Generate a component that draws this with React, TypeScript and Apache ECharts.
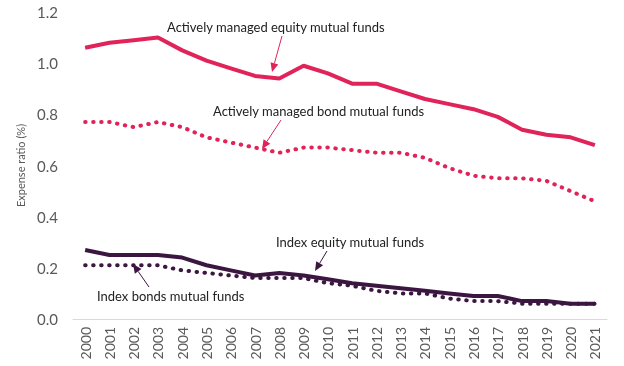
import React, { useEffect, useRef } from "react";
import * as echarts from "echarts";

const years = ["2000","2001","2002","2003","2004","2005","2006","2007","2008","2009","2010","2011","2012","2013","2014","2015","2016","2017","2018","2019","2020","2021"];
const activeEquity = [1.06,1.08,1.09,1.10,1.05,1.01,0.98,0.95,0.94,0.99,0.96,0.92,0.92,0.89,0.86,0.84,0.82,0.79,0.74,0.72,0.71,0.68];
const activeBond = [0.77,0.77,0.75,0.77,0.75,0.71,0.69,0.67,0.65,0.67,0.67,0.66,0.65,0.65,0.63,0.59,0.56,0.55,0.55,0.54,0.50,0.46];
const indexEquity = [0.27,0.25,0.25,0.25,0.24,0.21,0.19,0.17,0.18,0.17,0.155,0.14,0.13,0.12,0.11,0.10,0.09,0.09,0.07,0.07,0.06,0.06];
const indexBond = [0.21,0.21,0.21,0.21,0.19,0.18,0.17,0.16,0.16,0.16,0.14,0.13,0.11,0.10,0.10,0.08,0.07,0.07,0.06,0.06,0.06,0.06];
const yTicks = [0, 0.2, 0.4, 0.6, 0.8, 1.0, 1.2];

const PINK = "#E0245A";
const PURPLE = "#3B1640";
const FONT = "Lato, 'Open Sans', sans-serif";

function arrow(x1: number, y1: number, x2: number, y2: number, color: string) {
  const dx = x2 - x1, dy = y2 - y1;
  const len = Math.sqrt(dx * dx + dy * dy);
  const ux = dx / len, uy = dy / len;
  const hl = 9, hw = 4;
  const bx = x2 - ux * hl, by = y2 - uy * hl;
  const px = -uy, py = ux;
  return [
    { type: "line", shape: { x1, y1, x2: bx, y2: by }, style: { stroke: color, lineWidth: 1 }, silent: true },
    { type: "polygon", shape: { points: [[x2, y2], [bx + px * hw, by + py * hw], [bx - px * hw, by - py * hw]] }, style: { fill: color }, silent: true },
  ];
}

function label(text: string, x: number, y: number) {
  return { type: "text", x, y, style: { text, fill: "#222", font: `13px ${FONT}`, textVerticalAlign: "middle" }, silent: true };
}

export default function App() {
  const ref = useRef<HTMLDivElement>(null);
  useEffect(() => {
    const chart = echarts.init(ref.current!, null, { renderer: "svg" });
    const dotted = (color: string) => ({ color, width: 4, type: [0.5, 7.5], cap: "round" as const });
    chart.setOption({
      animation: false,
      grid: { left: 73, right: 17, top: 12, bottom: 47 },
      xAxis: {
        type: "category",
        data: years,
        boundaryGap: true,
        axisLine: { lineStyle: { color: "#D9D9D9", width: 1 } },
        axisTick: { show: false },
        axisLabel: { rotate: 90, color: "#595959", fontSize: 14, fontFamily: FONT, margin: 8 },
      },
      yAxis: {
        type: "value",
        min: yTicks[0],
        max: yTicks[yTicks.length - 1],
        interval: 0.2,
        splitLine: { show: false },
        axisLine: { show: false },
        axisTick: { show: false },
        axisLabel: { color: "#595959", fontSize: 15, fontFamily: FONT, margin: 15, formatter: (v: number) => v.toFixed(1) },
        name: "Expense ratio (%)",
        nameLocation: "middle",
        nameGap: 46,
        nameTextStyle: { color: "#595959", fontSize: 11, fontFamily: FONT },
      },
      series: [
        { type: "line", data: activeEquity, symbol: "none", lineStyle: { color: PINK, width: 4 }, z: 3 },
        { type: "line", data: activeBond, symbol: "none", lineStyle: dotted(PINK), z: 3 },
        { type: "line", data: indexEquity, symbol: "none", lineStyle: { color: PURPLE, width: 4 }, z: 3 },
        { type: "line", data: indexBond, symbol: "none", lineStyle: dotted(PURPLE), z: 4 },
      ],
      graphic: [
        label("Actively managed equity mutual funds", 167, 27),
        ...arrow(282, 36, 272, 72, PINK),
        label("Actively managed bond mutual funds", 213, 111),
        ...arrow(281, 120, 262, 149, PINK),
        label("Index equity mutual funds", 276, 242),
        ...arrow(327, 251, 315, 271, PURPLE),
        label("Index bonds mutual funds", 97, 296),
        ...arrow(149, 287, 133, 264, PURPLE),
      ],
    });
    return () => chart.dispose();
  }, []);
  return <div ref={ref} style={{ width: 624, height: 366, position: "fixed", left: 0, top: 0 }} />;
}
